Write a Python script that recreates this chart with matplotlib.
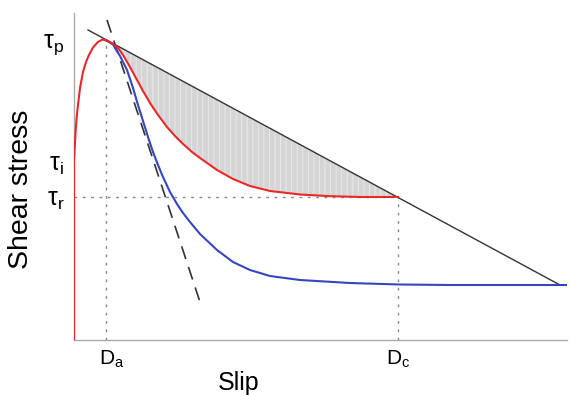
import numpy as np
import matplotlib
matplotlib.use('Agg')
import matplotlib.pyplot as plt
import matplotlib.transforms as mtransforms

plt.rcParams['font.family'] = ['Liberation Sans', 'DejaVu Sans']
plt.rcParams['mathtext.fontset'] = 'custom'
plt.rcParams['mathtext.rm'] = 'Liberation Sans'
plt.rcParams['mathtext.it'] = 'Liberation Sans'
plt.rcParams['hatch.linewidth'] = 0.6

# schematic values (arbitrary units)
red_slip = [0, 0, 0.05, 0.1, 0.2, 0.3, 0.4, 0.6, 0.9, 1.2, 1.5, 1.9, 2.4, 2.9, 3.4, 3.9,
            4.4, 4.9, 5.6, 6.3, 6.9, 7.6, 8.4, 9.3, 10.1, 10.9, 11.8, 12.6, 14.3, 15.9,
            17.6, 19.6, 22.6, 25.6, 28.6, 32.4]
red_stress = [0, 17.8, 18.8, 19.8, 21.4, 22.6, 23.5, 25.2, 26.8, 27.8, 28.5, 29.25, 29.8,
              30.07, 29.9, 29.6, 29.2, 28.5, 27.3, 26.0, 24.9, 23.7, 22.5, 21.3, 20.4,
              19.6, 18.8, 18.2, 17.0, 16.1, 15.4, 14.9, 14.55, 14.38, 14.3, 14.3]

blue_slip = [2.9, 3.4, 3.9, 4.1, 4.6, 5.3, 5.9, 6.4, 6.9, 7.4, 7.9, 8.4, 8.9, 9.6, 10.3,
             10.9, 11.6, 12.6, 14.3, 15.9, 17.6, 19.6, 22.6, 27.6, 32.6, 37.6, 49.3]
blue_stress = [30.07, 29.85, 29.55, 29.2, 28.4, 27.0, 25.2, 23.5, 21.9, 20.3, 18.8, 17.5,
               16.3, 14.8, 13.6, 12.7, 11.8, 10.6, 9.0, 7.8, 7.0, 6.4, 6.0, 5.7, 5.55,
               5.5, 5.5]

# straight slip-weakening line and steep dashed line (end points)
line_slip = [1.4, 48.6]
line_stress = [31.0, 5.5]
dash_slip = [3.3, 12.6]
dash_stress = [32.0, 3.8]

Da, Dc = 3.2, 32.4
tau_p, tau_i, tau_r = 30.0, 17.8, 14.3

fig = plt.figure(figsize=(5.71, 3.95), dpi=100)
ax = fig.add_axes([0.1296, 0.1392, 0.8634, 0.828])

red_slip = np.array(red_slip)
red_stress = np.array(red_stress)
m = (red_slip >= 3.9) & (red_slip <= Dc)
line_at = np.interp(red_slip[m], line_slip, line_stress)
ax.fill_between(red_slip[m], red_stress[m], line_at, facecolor='#d5d5d5',
                edgecolor='#ebebeb', hatch='|||', linewidth=0, zorder=1)

dot = (0, (2, 4))
ax.plot([Da, Da], [0, tau_p], color='#888888', lw=1, ls=dot, zorder=2)
ax.plot([Dc, Dc], [0, tau_r], color='#888888', lw=1, ls=dot, zorder=2)
ax.plot([0, Dc], [tau_r, tau_r], color='#888888', lw=1, ls=dot, zorder=2)

ax.plot(line_slip, line_stress, color='#333333', lw=1.0, zorder=3)
ax.plot(dash_slip, dash_stress, color='#333333', lw=1.2, ls=(0, (8, 5)), zorder=3)
ax.plot(blue_slip, blue_stress, color='#3546c0', lw=1.5, zorder=4)
ax.plot(red_slip, red_stress, color='#e8282a', lw=1.5, zorder=5)

ax.set_xlim(0, 49.3)
ax.set_ylim(0, 32.7)
ax.spines['top'].set_visible(False)
ax.spines['right'].set_visible(False)
for s in ['left', 'bottom']:
    ax.spines[s].set_color('#aaaaaa')
    ax.spines[s].set_linewidth(1.0)

ax.set_xticks([Da, Dc])
ax.set_xticklabels([r'$\mathrm{D_a}$', r'$\mathrm{D_c}$'], fontsize=15)
ax.set_yticks([tau_p, tau_i, tau_r])
ax.set_yticklabels([r'$\mathrm{\tau_p}$', r'$\mathrm{\tau_i}$', r'$\mathrm{\tau_r}$'], fontsize=18)
ax.tick_params(axis='y', length=0, pad=7)
ax.tick_params(axis='x', length=0, pad=6)
lbl = ax.get_xticklabels()[0]
lbl.set_transform(lbl.get_transform() + mtransforms.ScaledTranslation(6 / 100, 0, fig.dpi_scale_trans))

ax.set_xlabel('Slip', fontsize=18)
ax.xaxis.set_label_coords(0.333, -0.095)
ax.set_ylabel('Shear stress', fontsize=20.5)
ax.yaxis.set_label_coords(-0.082, 0.46)

fig.savefig('out.png', dpi=100)
